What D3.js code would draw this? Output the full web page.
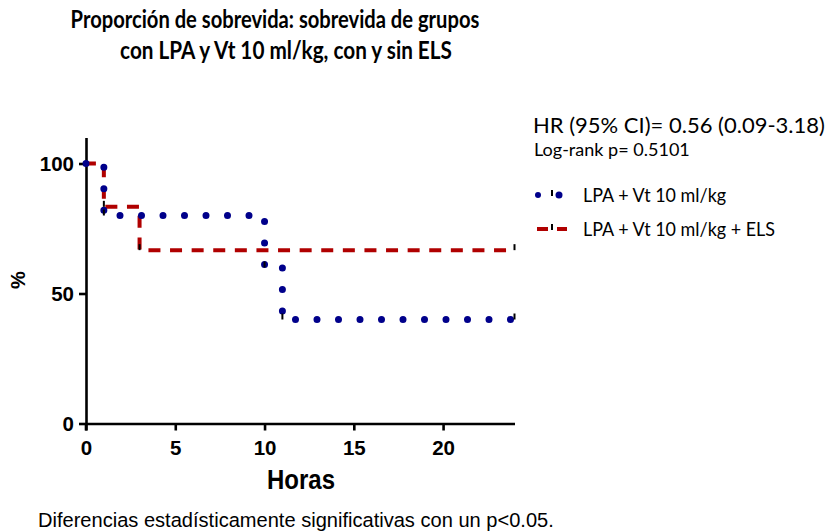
<!DOCTYPE html>
<html><head><meta charset="utf-8">
<script src="https://cdn.jsdelivr.net/npm/d3@7"></script>
<style>body{margin:0;background:#fff;} svg{display:block;}</style>
</head><body>
<svg id="c" width="830" height="531"></svg>
<script>
// ---- data ----
const titleLines = ["Proporción de sobrevida: sobrevida de grupos", "con LPA y Vt 10 ml/kg, con y sin ELS"];
const xTicks = [0, 5, 10, 15, 20];
const yTicks = [0, 50, 100];
const seriesNames = ["LPA + Vt 10 ml/kg", "LPA + Vt 10 ml/kg + ELS"];
const timesBlue = [0, 1, 10, 11, 24];
const survBlue  = [100, 80, 60, 40, 40];
const timesRed  = [0, 1, 3, 24];
const survRed   = [100, 83.33, 66.67, 66.67];
const censorBlueT = [1, 10, 11, 24];
const censorBlueS = [80, 60, 40, 40];
const censorRedT  = [1, 3, 24];
const censorRedS  = [83.33, 66.67, 66.67];
const statsLines = ["HR (95% CI)= 0.56 (0.09-3.18)", "Log-rank p= 0.5101"];
const xLabel = "Horas", yLabel = "%";
const footnote = "Diferencias estadísticamente significativas con un p<0.05.";

const BLUE = "#00008b", RED = "#b00000";
const svg = d3.select("#c");
const x = d3.scaleLinear().domain([0, 24]).range([86, 514.5]);
const y = d3.scaleLinear().domain([0, 110]).range([423.5, 137.5]);

function fit(sel, w) {
  const len = sel.node().getComputedTextLength();
  const fs = parseFloat(sel.attr("font-size"));
  sel.attr("font-size", (fs * w / len).toFixed(2));
  return sel;
}
function stretched(px, py, sy) {
  return svg.append("text").attr("transform", `translate(${px},${py}) scale(1,${sy})`);
}

// title
const tf = "Lato, 'Open Sans', sans-serif";
fit(stretched(275, 28, 1.2).attr("text-anchor", "middle")
  .attr("font-family", tf).attr("font-weight", "bold").attr("font-size", 18).text(titleLines[0]), 409);
fit(stretched(286, 59, 1.2).attr("text-anchor", "middle")
  .attr("font-family", tf).attr("font-weight", "bold").attr("font-size", 18).text(titleLines[1]), 332);

// axes
const af = "'Liberation Sans', Arial, sans-serif";
const gx = svg.append("g").attr("transform", `translate(0,${y(0)})`)
  .call(d3.axisBottom(x).tickValues(xTicks).tickSize(7).tickSizeOuter(0).tickPadding(10));
const gy = svg.append("g").attr("transform", `translate(${x(0)},0)`)
  .call(d3.axisLeft(y).tickValues(yTicks).tickSize(7).tickSizeOuter(0).tickPadding(5));
[gx, gy].forEach(g => {
  g.select(".domain").attr("stroke", "#000").attr("stroke-width", 2.6);
  g.selectAll(".tick line").attr("stroke", "#000").attr("stroke-width", 2.6);
  g.selectAll(".tick text").attr("font-family", af).attr("font-weight", "bold")
    .attr("font-size", 20.5).attr("fill", "#000");
});
gy.selectAll(".tick text").attr("dy", "0.36em");
svg.append("line").attr("x1", x(0)).attr("x2", x(0)).attr("y1", y(0)).attr("y2", y(0) + 7)
  .attr("stroke", "#000").attr("stroke-width", 2.6);

stretched(301, 489, 1.18).attr("text-anchor", "middle")
  .attr("font-family", af).attr("font-weight", "bold").attr("font-size", 24).text(xLabel);
svg.append("text").attr("transform", "translate(25,280) rotate(-90)").attr("text-anchor", "middle")
  .attr("font-family", af).attr("font-weight", "bold").attr("font-size", 20).text(yLabel);

// lines
const line = d3.line().curve(d3.curveStepAfter).x(d => x(d[0])).y(d => y(d[1]));
svg.append("path").datum(d3.zip(timesRed, survRed)).attr("d", line)
  .attr("fill", "none").attr("stroke", RED).attr("stroke-width", 4)
  .attr("stroke-dasharray", "12 9.6").attr("stroke-dashoffset", 2.1);
svg.append("path").datum(d3.zip(timesBlue, survBlue)).attr("d", line)
  .attr("fill", "none").attr("stroke", BLUE).attr("stroke-width", 7)
  .attr("stroke-linecap", "round").attr("stroke-dasharray", "0 21.5");

// censor ticks
const cens = d3.zip(censorRedT, censorRedS).concat(d3.zip(censorBlueT, censorBlueS));
svg.append("g").selectAll("line").data(cens).join("line")
  .attr("x1", d => x(d[0])).attr("x2", d => x(d[0]))
  .attr("y1", d => y(d[1])).attr("y2", d => y(d[1]) - 6)
  .attr("stroke", "#000").attr("stroke-width", 2);

// stats text
const lf = "Lato, 'Open Sans', sans-serif";
fit(svg.append("text").attr("x", 533).attr("y", 133).attr("font-family", lf)
  .attr("font-size", 20).text(statsLines[0]), 292);
fit(svg.append("text").attr("x", 534).attr("y", 156).attr("font-family", lf)
  .attr("font-size", 14).text(statsLines[1]), 156);

// legend
const lg = svg.append("g");
lg.append("circle").attr("cx", 538).attr("cy", 195).attr("r", 3).attr("fill", BLUE);
lg.append("circle").attr("cx", 559).attr("cy", 195).attr("r", 3.5).attr("fill", BLUE);
lg.append("line").attr("x1", 552).attr("x2", 552).attr("y1", 190).attr("y2", 196)
  .attr("stroke", "#000").attr("stroke-width", 2);
lg.append("line").attr("x1", 537).attr("x2", 567).attr("y1", 229).attr("y2", 229)
  .attr("stroke", RED).attr("stroke-width", 4).attr("stroke-dasharray", "11 9");
lg.append("line").attr("x1", 552).attr("x2", 552).attr("y1", 224).attr("y2", 230)
  .attr("stroke", "#000").attr("stroke-width", 2);
fit(stretched(583, 202, 1.08).attr("font-family", lf)
  .attr("font-size", 16).text(seriesNames[0]), 143);
fit(stretched(583, 236, 1.08).attr("font-family", lf)
  .attr("font-size", 16).text(seriesNames[1]), 192);

// footnote
fit(svg.append("text").attr("x", 38).attr("y", 527).attr("font-family", af)
  .attr("font-size", 16).text(footnote), 516);
</script>
</body></html>
